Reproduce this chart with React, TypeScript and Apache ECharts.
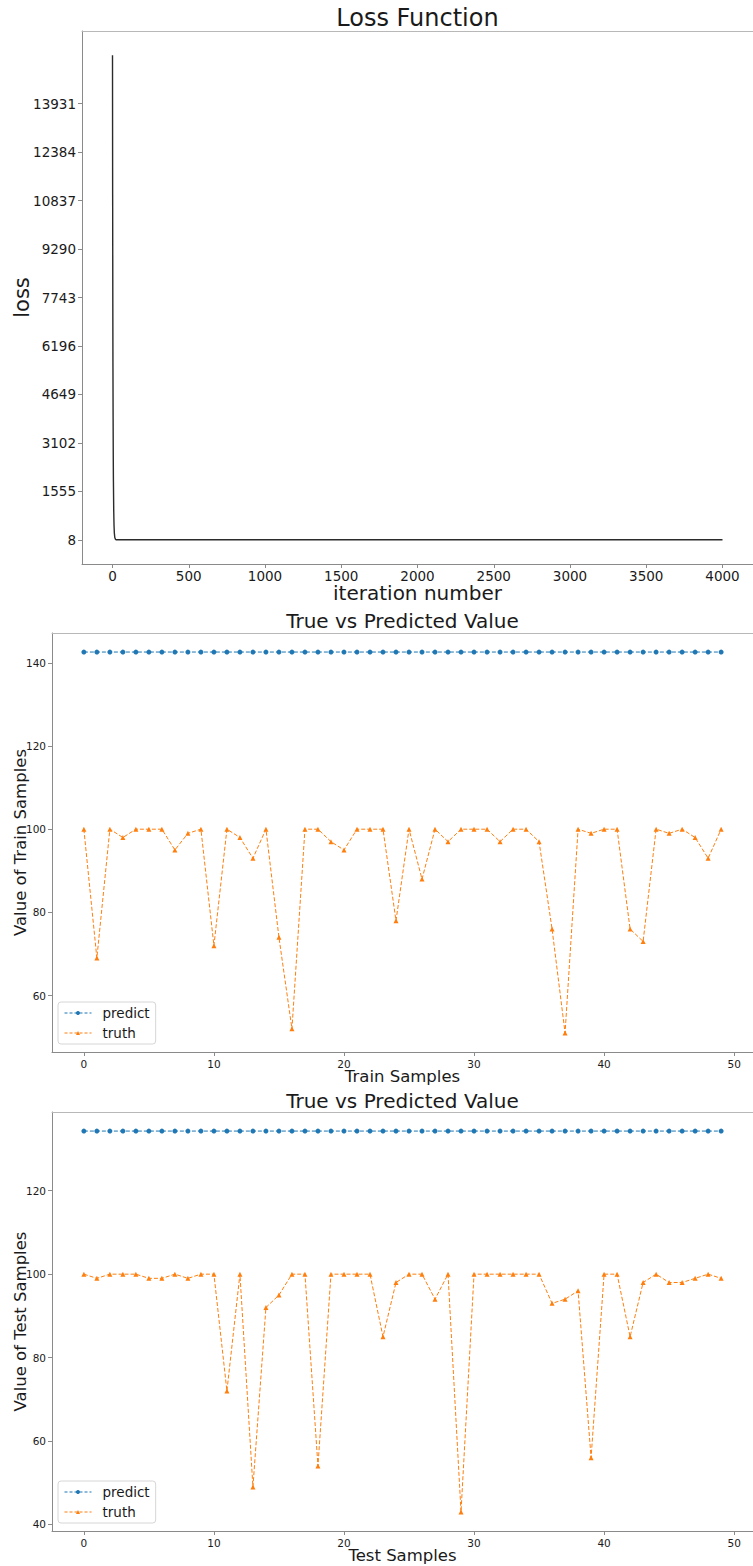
import React, { useEffect, useRef } from "react";
import * as echarts from "echarts";

// ---- Loss chart data ----
const lossIter = [0, 1, 2, 3, 4, 5, 6, 8, 10, 12, 15, 20, 25, 4000];
const lossVal = [15478, 11000, 7800, 5500, 3900, 2700, 1900, 950, 470, 230, 80, 20, 8, 8];
const lossXTicks = [0, 500, 1000, 1500, 2000, 2500, 3000, 3500, 4000];
const lossYTicks = [8, 1555, 3102, 4649, 6196, 7743, 9290, 10837, 12384, 13931];

// ---- Train samples ----
const trainPredict = [
  142.6, 142.6, 142.6, 142.6, 142.6, 142.6, 142.6, 142.6, 142.6, 142.6,
  142.6, 142.6, 142.6, 142.6, 142.6, 142.6, 142.6, 142.6, 142.6, 142.6,
  142.6, 142.6, 142.6, 142.6, 142.6, 142.6, 142.6, 142.6, 142.6, 142.6,
  142.6, 142.6, 142.6, 142.6, 142.6, 142.6, 142.6, 142.6, 142.6, 142.6,
  142.6, 142.6, 142.6, 142.6, 142.6, 142.6, 142.6, 142.6, 142.6, 142.6,
];
const trainTruth = [
  100, 69, 100, 98, 100, 100, 100, 95, 99, 100,
  72, 100, 98, 93, 100, 74, 52, 100, 100, 97,
  95, 100, 100, 100, 78, 100, 88, 100, 97, 100,
  100, 100, 97, 100, 100, 97, 76, 51, 100, 99,
  100, 100, 76, 73, 100, 99, 100, 98, 93, 100,
];

// ---- Test samples ----
const testPredict = [
  134.3, 134.3, 134.3, 134.3, 134.3, 134.3, 134.3, 134.3, 134.3, 134.3,
  134.3, 134.3, 134.3, 134.3, 134.3, 134.3, 134.3, 134.3, 134.3, 134.3,
  134.3, 134.3, 134.3, 134.3, 134.3, 134.3, 134.3, 134.3, 134.3, 134.3,
  134.3, 134.3, 134.3, 134.3, 134.3, 134.3, 134.3, 134.3, 134.3, 134.3,
  134.3, 134.3, 134.3, 134.3, 134.3, 134.3, 134.3, 134.3, 134.3, 134.3,
];
const testTruth = [
  100, 99, 100, 100, 100, 99, 99, 100, 99, 100,
  100, 72, 100, 49, 92, 95, 100, 100, 54, 100,
  100, 100, 100, 85, 98, 100, 100, 94, 100, 43,
  100, 100, 100, 100, 100, 100, 93, 94, 96, 56,
  100, 100, 85, 98, 100, 98, 98, 99, 100, 99,
];

const sampleXTicks = [0, 10, 20, 30, 40, 50];
const trainYTicks = [60, 80, 100, 120, 140];
const testYTicks = [40, 60, 80, 100, 120];

const FONT = "DejaVu Sans";
const TEXT = "#1a1a1a";
const AXIS = "#8a8a8a";
const BLUE = "#1f77b4";
const ORANGE = "#ff7f0e";

function axisCommon(fontSize: number, ticks: number[], margin: number) {
  return {
    splitLine: { show: false },
    axisLine: { show: true, onZero: false, lineStyle: { color: AXIS, width: 1 } },
    axisTick: { show: true, length: 4, lineStyle: { color: AXIS }, customValues: ticks },
    axisLabel: {
      fontFamily: FONT,
      fontSize,
      color: TEXT,
      margin,
      customValues: ticks,
      formatter: (v: number) => String(v),
    },
  };
}

function boxAxis(gridIndex: number, pos: "top" | "right") {
  return {
    type: "value",
    gridIndex,
    position: pos,
    axisLine: { show: true, onZero: false, lineStyle: { color: "#b8b8b8", width: 1 } },
    axisTick: { show: false },
    axisLabel: { show: false },
    splitLine: { show: false },
  };
}

function indexed(arr: number[]) {
  return arr.map((v, i) => [i, v]);
}

export default function App() {
  const ref = useRef<HTMLDivElement>(null);
  useEffect(() => {
    if (!ref.current) return;
    const chart = echarts.init(ref.current, null, { renderer: "svg" });

    const textEl = (text: string, x: number, y: number, size: number, rotate = 0) => ({
      type: "text",
      x,
      y,
      rotation: rotate,
      style: {
        text,
        fill: TEXT,
        font: `${size}px "${FONT}"`,
        textAlign: "center",
        textVerticalAlign: "middle",
      },
    });

    const legendBase = {
      orient: "vertical",
      data: ["predict", "truth"],
      itemWidth: 27,
      itemHeight: 5,
      itemGap: 6,
      padding: [4, 6, 4, 6],
      borderColor: "#d6d6d6",
      borderWidth: 1,
      borderRadius: 3,
      backgroundColor: "rgba(255,255,255,0.85)",
      lineStyle: { width: 1, type: [3, 2] },
      textStyle: { fontFamily: FONT, fontSize: 13.5, color: TEXT, lineHeight: 14, padding: [0, 0, 0, 6] },
      selectedMode: false,
    };

    const option: any = {
      animation: false,
      backgroundColor: "#ffffff",
      grid: [
        { left: 82, top: 31, width: 671, height: 533 },
        { left: 52, top: 633, width: 701, height: 419 },
        { left: 52, top: 1112, width: 701, height: 419 },
      ],
      xAxis: [
        { type: "value", gridIndex: 0, min: -200, max: 4200, ...axisCommon(13.5, lossXTicks, 5) },
        { type: "value", gridIndex: 1, min: -2.45, max: 51.45, ...axisCommon(10.5, sampleXTicks, 6) },
        { type: "value", gridIndex: 2, min: -2.45, max: 51.45, ...axisCommon(10.5, sampleXTicks, 6) },
        boxAxis(0, "top"),
        boxAxis(1, "top"),
        boxAxis(2, "top"),
      ],
      yAxis: [
        { type: "value", gridIndex: 0, min: -765, max: 16251, ...axisCommon(13.5, lossYTicks, 6) },
        { type: "value", gridIndex: 1, min: 46.42, max: 147.18, ...axisCommon(10.5, trainYTicks, 6) },
        { type: "value", gridIndex: 2, min: 38.44, max: 138.87, ...axisCommon(10.5, testYTicks, 6) },
        boxAxis(0, "right"),
        boxAxis(1, "right"),
        boxAxis(2, "right"),
      ],
      legend: [
        { ...legendBase, left: 58, top: 1002 },
        { ...legendBase, left: 58, top: 1481 },
      ],
      series: [
        {
          type: "line",
          name: "loss",
          xAxisIndex: 0,
          yAxisIndex: 0,
          data: lossIter.map((x, i) => [x, lossVal[i]]),
          showSymbol: false,
          lineStyle: { color: "#2b2b2b", width: 1.4 },
          itemStyle: { color: "#2b2b2b" },
        },
        {
          type: "line",
          name: "predict",
          xAxisIndex: 1,
          yAxisIndex: 1,
          data: indexed(trainPredict),
          symbol: "circle",
          symbolSize: 5,
          lineStyle: { color: BLUE, width: 1, type: [4, 2] },
          itemStyle: { color: BLUE },
        },
        {
          type: "line",
          name: "truth",
          xAxisIndex: 1,
          yAxisIndex: 1,
          data: indexed(trainTruth),
          symbol: "triangle",
          symbolSize: 5,
          lineStyle: { color: ORANGE, width: 1, type: [4, 2] },
          itemStyle: { color: ORANGE },
        },
        {
          type: "line",
          name: "predict",
          xAxisIndex: 2,
          yAxisIndex: 2,
          data: indexed(testPredict),
          symbol: "circle",
          symbolSize: 5,
          lineStyle: { color: BLUE, width: 1, type: [4, 2] },
          itemStyle: { color: BLUE },
        },
        {
          type: "line",
          name: "truth",
          xAxisIndex: 2,
          yAxisIndex: 2,
          data: indexed(testTruth),
          symbol: "triangle",
          symbolSize: 5,
          lineStyle: { color: ORANGE, width: 1, type: [4, 2] },
          itemStyle: { color: ORANGE },
        },
      ],
      graphic: [
        textEl("Loss Function", 417.5, 18, 24),
        textEl("loss", 22, 297.5, 21, Math.PI / 2),
        textEl("iteration number", 417.5, 593, 20),
        textEl("True vs Predicted Value", 402.5, 621, 20),
        textEl("Value of Train Samples", 20, 842.5, 16.5, Math.PI / 2),
        textEl("Train Samples", 402.5, 1076, 16.5),
        textEl("True vs Predicted Value", 402.5, 1101, 20),
        textEl("Value of Test Samples", 20, 1321.5, 16.5, Math.PI / 2),
        textEl("Test Samples", 402.5, 1555, 16.5),
      ],
    };
    chart.setOption(option);
    return () => chart.dispose();
  }, []);

  return (
    <div
      ref={ref}
      style={{ position: "absolute", left: 0, top: 0, width: 753, height: 1566, background: "#fff" }}
    />
  );
}
